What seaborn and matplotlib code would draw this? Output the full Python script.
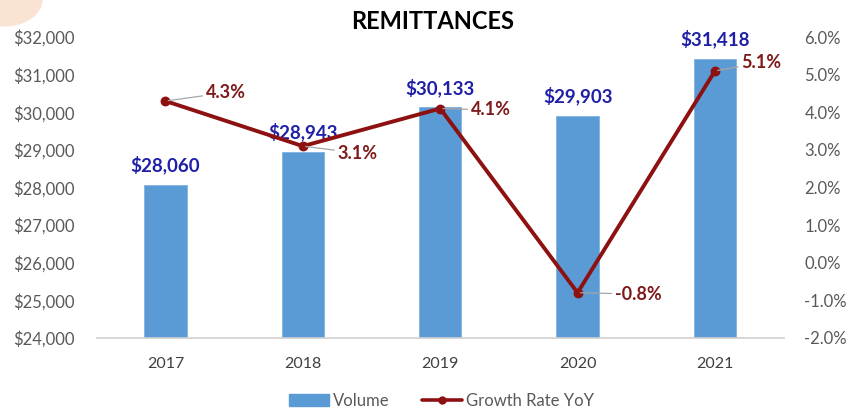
import numpy as np
import pandas as pd
import matplotlib
matplotlib.use("Agg")
import matplotlib.pyplot as plt
import seaborn as sns
from matplotlib.lines import Line2D
from matplotlib.patches import Patch, Ellipse

# values
years = ["2017", "2018", "2019", "2020", "2021"]
volume = [28060, 28943, 30133, 29903, 31418]
growth = [4.3, 3.1, 4.1, -0.8, 5.1]
volume_labels = ["$28,060", "$28,943", "$30,133", "$29,903", "$31,418"]
growth_labels = ["4.3%", "3.1%", "4.1%", "-0.8%", "5.1%"]

df = pd.DataFrame({"year": years, "volume": volume, "growth": growth})

sns.set_style("white")
plt.rcParams["font.family"] = ["Lato", "DejaVu Sans"]

bar_col = "#5B9BD5"
line_col = "#8E1111"
blue_txt = "#1F1FA8"
red_txt = "#7F1A1A"
grey_txt = "#595959"

fig = plt.figure(figsize=(8.49, 4.08), dpi=100)

# faint peach blob in the top left corner
fig.patches.append(Ellipse((0.005, 1.0), 0.09, 0.13, transform=fig.transFigure,
                           facecolor="#FBE3D3", edgecolor="none", zorder=0))

ax = fig.add_axes([0.114, 0.172, 0.809, 0.737])

sns.barplot(data=df, x="year", y="volume", color=bar_col, width=0.31,
            saturation=1, ax=ax, edgecolor="#7FB2E0", linewidth=0.6)
ax.set_ylim(24000, 32000)
ax.set_yticks(np.arange(24000, 32001, 1000))
ax.set_yticklabels(["${:,}".format(v) for v in range(24000, 32001, 1000)])
ax.set_xlabel("")
ax.set_ylabel("")
ax.tick_params(axis="y", length=0, pad=16, labelsize=12, labelcolor=grey_txt)
ax.tick_params(axis="x", length=0, pad=14, labelsize=11.5, labelcolor="#404040")
for s in ["top", "left", "right"]:
    ax.spines[s].set_visible(False)
ax.spines["bottom"].set_color("#D0D0D0")
ax.spines["bottom"].set_linewidth(1.2)
ax.patch.set_alpha(0)

for i, (v, lab) in enumerate(zip(volume, volume_labels)):
    ax.text(i, v + 280, lab, ha="center", va="bottom", fontsize=13.5,
            fontweight="bold", color=blue_txt)

ax2 = ax.twinx()
sns.pointplot(data=df, x="year", y="growth", color=line_col, markers="o",
              markersize=5, linewidth=2.8, ax=ax2)
ax2.set_ylim(-2, 6)
ax2.set_yticks(np.arange(-2, 6.1, 1))
ax2.set_yticklabels(["{:.1f}%".format(v) for v in np.arange(-2, 6.1, 1)])
ax2.set_ylabel("")
ax2.tick_params(axis="y", length=0, pad=15, labelsize=12, labelcolor=grey_txt)
for s in ["top", "left", "right", "bottom"]:
    ax2.spines[s].set_visible(False)

# label offsets (points) for the growth labels, with grey leader lines
offsets = [(29, 6), (25, -5), (22, -1), (27, -1), (19, 6)]
for i, (g, lab, off) in enumerate(zip(growth, growth_labels, offsets)):
    ax2.annotate(lab, xy=(i, g), xytext=off, textcoords="offset points",
                 ha="left", va="center", fontsize=13, fontweight="bold",
                 color=red_txt,
                 arrowprops=dict(arrowstyle="-", color="#A6A6A6", lw=0.9,
                                 shrinkA=0, shrinkB=2))

fig.text(0.509, 0.947, "REMITTANCES", ha="center", va="center",
         fontsize=17, fontweight="bold", color="black")

handles = [Patch(facecolor=bar_col, edgecolor=bar_col, label="Volume"),
           Line2D([0], [0], color=line_col, lw=2.6, marker="o", markersize=5,
                  label="Growth Rate YoY")]
fig.legend(handles=handles, loc="center", bbox_to_anchor=(0.52, 0.017),
           ncol=2, frameon=False, fontsize=12, handlelength=2.4,
           handletextpad=0.2, columnspacing=2.0, labelcolor=grey_txt)

fig.savefig("out.png", dpi=100)
